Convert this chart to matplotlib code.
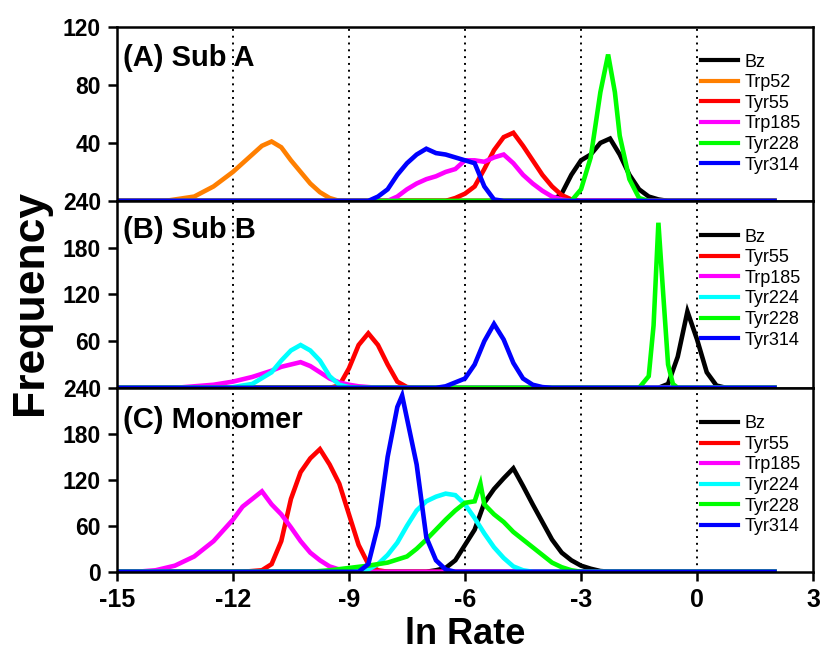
import numpy as np
import matplotlib
matplotlib.use("Agg")
import matplotlib.pyplot as plt

plt.rcParams["axes.unicode_minus"] = False

# histogram values (ln rate -> frequency)
x_lo, x_hi = -15, 2

# (A) Sub A
a_bz_x = [-3.75, -3.5, -3.25, -3, -2.75, -2.5, -2.25, -2, -1.75, -1.5, -1.25, -1, -0.75]
a_bz_y = [0, 5, 18, 28, 32, 40, 43, 32, 18, 8, 3, 1, 0]
a_trp52_x = [-13.75, -13.5, -13, -12.5, -12, -11.5, -11.25, -11, -10.75, -10.5, -10.25, -10, -9.75, -9.5, -9.25]
a_trp52_y = [0, 1, 3, 10, 20, 32, 38, 41, 37, 28, 20, 12, 6, 2, 0]
a_tyr55_x = [-6.5, -6.25, -6, -5.75, -5.5, -5.25, -5, -4.75, -4.5, -4.25, -4, -3.75, -3.5, -3.25, -3]
a_tyr55_y = [0, 2, 5, 10, 22, 35, 44, 47, 38, 28, 18, 10, 4, 1, 0]
a_trp185_x = [-8, -7.75, -7.5, -7.25, -7, -6.75, -6.5, -6.25, -6, -5.75, -5.5, -5.25, -5, -4.75, -4.5, -4.25, -4, -3.75, -3.5, -3.25]
a_trp185_y = [0, 3, 8, 12, 15, 17, 20, 22, 28, 28, 27, 30, 32, 26, 18, 12, 7, 3, 1, 0]
a_tyr228_x = [-3.25, -3, -2.75, -2.5, -2.3, -2.125, -2, -1.75, -1.5, -1.25]
a_tyr228_y = [0, 8, 30, 75, 101, 75, 45, 15, 2, 0]
a_tyr314_x = [-8.5, -8.25, -8, -7.75, -7.5, -7.25, -7, -6.75, -6.5, -6.25, -6, -5.75, -5.5, -5.25, -5]
a_tyr314_y = [0, 3, 8, 18, 26, 32, 36, 33, 32, 30, 28, 26, 10, 1, 0]

# (B) Sub B
b_bz_x = [-1, -0.75, -0.5, -0.25, 0, 0.25, 0.5, 0.75]
b_bz_y = [0, 5, 40, 98, 62, 20, 3, 0]
b_tyr55_x = [-9.5, -9.25, -9, -8.75, -8.5, -8.25, -8, -7.75, -7.5, -7.25]
b_tyr55_y = [0, 3, 25, 55, 70, 55, 30, 8, 1, 0]
b_trp185_x = [-13.5, -13, -12.5, -12, -11.5, -11, -10.75, -10.5, -10.25, -10, -9.75, -9.5, -9.25, -9, -8.75, -8.5, -8.25]
b_trp185_y = [0, 2, 4, 8, 14, 22, 27, 30, 33, 28, 20, 12, 7, 4, 2, 1, 0]
b_tyr224_x = [-12.25, -12, -11.5, -11, -10.75, -10.5, -10.25, -10, -9.75, -9.5, -9.25, -9, -8.75]
b_tyr224_y = [0, 1, 5, 20, 35, 48, 55, 48, 35, 15, 4, 1, 0]
b_tyr228_x = [-1.5, -1.25, -1.125, -1, -0.875, -0.75, -0.625, -0.5]
b_tyr228_y = [0, 15, 80, 212, 120, 30, 5, 0]
b_tyr314_x = [-6.75, -6.5, -6, -5.75, -5.5, -5.25, -5, -4.75, -4.5, -4.25, -4, -3.75]
b_tyr314_y = [0, 2, 12, 30, 60, 82, 62, 32, 12, 4, 1, 0]

# (C) Monomer
c_bz_x = [-7, -6.75, -6.5, -6.25, -6, -5.75, -5.5, -5.25, -5, -4.75, -4.5, -4.25, -4, -3.75, -3.5, -3.25, -3, -2.75, -2.5, -2.25]
c_bz_y = [0, 2, 5, 15, 35, 55, 90, 108, 122, 135, 112, 88, 65, 42, 25, 15, 8, 4, 1, 0]
c_tyr55_x = [-11.75, -11.25, -11, -10.75, -10.5, -10.25, -10, -9.75, -9.5, -9.25, -9, -8.75, -8.5, -8.25, -8]
c_tyr55_y = [0, 2, 10, 40, 95, 130, 148, 160, 140, 115, 75, 35, 10, 2, 0]
c_trp185_x = [-14.5, -14, -13.5, -13, -12.5, -12, -11.75, -11.5, -11.25, -11, -10.75, -10.5, -10.25, -10, -9.75, -9.5, -9.25, -9, -8.75]
c_trp185_y = [0, 2, 8, 20, 40, 68, 85, 95, 105, 88, 75, 58, 40, 25, 15, 7, 3, 1, 0]
c_tyr224_x = [-9, -8.5, -8.25, -8, -7.75, -7.5, -7.25, -7, -6.75, -6.5, -6.25, -6, -5.75, -5.5, -5.25, -5, -4.75, -4.5, -4.25]
c_tyr224_y = [0, 3, 10, 22, 38, 60, 80, 92, 98, 102, 100, 88, 70, 50, 32, 18, 7, 2, 0]
c_tyr228_x = [-10, -9.5, -9, -8.5, -8, -7.5, -7.25, -7, -6.75, -6.5, -6.25, -6, -5.75, -5.6, -5.5, -5.25, -5, -4.75, -4.5, -4.25, -4, -3.75, -3.5, -3.25, -3]
c_tyr228_y = [0, 2, 5, 8, 12, 20, 30, 42, 55, 68, 80, 90, 92, 115, 88, 75, 65, 52, 42, 32, 22, 12, 6, 2, 0]
c_tyr314_x = [-8.75, -8.5, -8.25, -8, -7.75, -7.625, -7.5, -7.25, -7, -6.75, -6.5, -6.25]
c_tyr314_y = [0, 10, 60, 150, 215, 230, 200, 140, 45, 15, 3, 0]

colors = {"Bz": "black", "Trp52": "#FF7F00", "Tyr55": "#FF0000", "Trp185": "#FF00FF",
          "Tyr224": "#00FFFF", "Tyr228": "#00FF00", "Tyr314": "#0000FF"}

panels = [
    ("(A) Sub A", [("Bz", a_bz_x, a_bz_y), ("Trp52", a_trp52_x, a_trp52_y), ("Tyr55", a_tyr55_x, a_tyr55_y),
                   ("Trp185", a_trp185_x, a_trp185_y), ("Tyr228", a_tyr228_x, a_tyr228_y),
                   ("Tyr314", a_tyr314_x, a_tyr314_y)], 120, [40, 80, 120]),
    ("(B) Sub B", [("Bz", b_bz_x, b_bz_y), ("Tyr55", b_tyr55_x, b_tyr55_y), ("Trp185", b_trp185_x, b_trp185_y),
                   ("Tyr224", b_tyr224_x, b_tyr224_y), ("Tyr228", b_tyr228_x, b_tyr228_y),
                   ("Tyr314", b_tyr314_x, b_tyr314_y)], 240, [60, 120, 180, 240]),
    ("(C) Monomer", [("Bz", c_bz_x, c_bz_y), ("Tyr55", c_tyr55_x, c_tyr55_y), ("Trp185", c_trp185_x, c_trp185_y),
                     ("Tyr224", c_tyr224_x, c_tyr224_y), ("Tyr228", c_tyr228_x, c_tyr228_y),
                     ("Tyr314", c_tyr314_x, c_tyr314_y)], 240, [0, 60, 120, 180, 240]),
]

bold = ["Liberation Sans", "DejaVu Sans"]

fig = plt.figure(figsize=(8.23, 6.58), dpi=100)
gs = fig.add_gridspec(3, 1, height_ratios=[174, 187, 184], hspace=0,
                      left=0.142, right=0.988, top=0.959, bottom=0.131)
label_y = [0.82, 0.845, 0.826]

for i, (title, series, ymax, yticks) in enumerate(panels):
    ax = fig.add_subplot(gs[i])
    for name, xs, ys in series:
        x = np.concatenate([[x_lo], xs, [x_hi]])
        y = np.concatenate([[0], ys, [0]])
        ax.plot(x, y, color=colors[name], lw=3.3, label=name, solid_joinstyle="miter")
    for xv in [-12, -9, -6, -3, 0]:
        ax.axvline(xv, color="black", lw=1.4, ls=(0, (1, 2.5)), zorder=0)
    ax.set_xlim(-15, 3)
    ax.set_ylim(0, ymax)
    ax.set_yticks(yticks)
    ax.set_xticks([-15, -12, -9, -6, -3, 0, 3])
    for s in ax.spines.values():
        s.set_linewidth(1.8)
    ax.tick_params(axis="y", direction="out", length=6.5, width=1.8, right=False, pad=5)
    for t in ax.get_yticklabels():
        t.set_family(bold)
        t.set_fontweight("bold")
        t.set_fontsize(16.5)
    if i < 2:
        ax.tick_params(axis="x", bottom=False, labelbottom=False)
    else:
        ax.tick_params(axis="x", direction="out", length=6.5, width=1.8, pad=5)
        for t in ax.get_xticklabels():
            t.set_family(bold)
            t.set_fontweight("bold")
            t.set_fontsize(18)
        ax.set_xlabel("ln Rate", family=bold, fontweight="bold", fontsize=26, labelpad=4)
    ax.text(0.009, label_y[i], title, transform=ax.transAxes, family=bold, fontweight="bold",
            fontsize=21, va="center", ha="left")
    leg = ax.legend(loc="upper right", bbox_to_anchor=(1.0, 0.92), frameon=False,
                    prop={"family": bold, "size": 13}, handlelength=2.05,
                    labelspacing=0.2, handletextpad=0.35, borderaxespad=0.3)
    for h in leg.get_lines():
        h.set_linewidth(3)

fig.text(0.037, 0.541, "Frequency", rotation=90, family=bold, fontweight="bold",
         fontsize=32, ha="center", va="center")

fig.savefig("out.png", dpi=100)
